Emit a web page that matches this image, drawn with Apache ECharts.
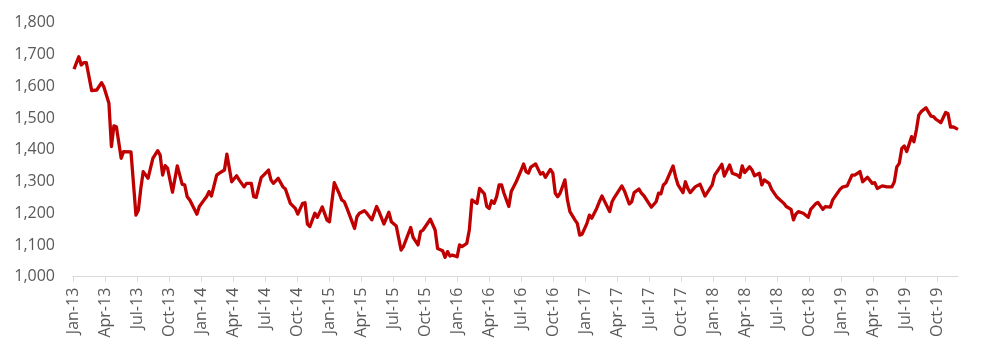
<!DOCTYPE html>
<html>
<head>
<meta charset="utf-8">
<script src="https://cdn.jsdelivr.net/npm/echarts@6/dist/echarts.min.js"></script>
<style>
html,body{margin:0;padding:0;background:#fff;}
#chart{width:981px;height:352px;}
</style>
</head>
<body>
<div id="chart"></div>
<script>
// Weekly observations (Fridays) starting 2013-01-04; week index since start
const startDate = '2013-01-04';
const weekIndex = [0,2,3,4,5,7,9,11,12,14,15,16,17,19,20,23,25,26,27,28,30,32,34,35,36,37,38,40,42,44,45,46,47,50,51,53,54,55,56,58,59,61,62,64,66,67,69,70,72,73,74,76,77,79,80,81,83,85,86,88,90,91,93,94,95,96,98,99,101,103,104,106,108,109,110,111,114,115,116,118,119,121,123,124,126,128,129,131,133,134,137,138,140,141,142,145,147,148,150,151,152,153,154,156,157,158,160,161,162,163,164,165,167,168,169,170,171,172,173,174,175,177,178,180,182,183,184,185,186,188,190,191,192,194,195,196,197,198,200,201,202,204,205,206,207,209,210,211,213,214,215,218,219,220,223,224,226,227,228,230,231,232,235,237,238,239,240,241,244,245,246,248,249,250,251,253,255,257,260,261,262,264,265,267,268,270,271,272,273,275,276,277,279,280,281,283,284,286,289,290,292,293,294,295,297,299,300,302,303,305,306,308,309,312,313,315,317,318,320,321,323,325,326,327,329,331,333,334,335,336,337,338,339,341,342,343,344,345,347,349,350,351,353,355,356,357,358,360];
const values = [1654,1693,1667,1674,1674,1586,1588,1611,1597,1546,1410,1475,1472,1373,1394,1393,1194,1210,1278,1331,1310,1373,1397,1383,1320,1350,1341,1266,1349,1291,1289,1252,1242,1197,1221,1242,1252,1268,1254,1320,1326,1336,1386,1299,1318,1305,1283,1294,1294,1252,1250,1312,1320,1336,1305,1294,1310,1283,1276,1231,1215,1197,1231,1233,1166,1158,1200,1187,1220,1178,1173,1296,1263,1242,1236,1215,1152,1189,1200,1208,1200,1179,1221,1205,1166,1203,1173,1160,1084,1095,1155,1124,1100,1142,1147,1181,1147,1089,1082,1061,1079,1065,1068,1063,1100,1095,1105,1147,1242,1236,1231,1278,1261,1221,1215,1239,1231,1252,1289,1289,1263,1221,1268,1299,1336,1355,1331,1326,1345,1355,1323,1328,1313,1338,1326,1263,1252,1263,1305,1242,1205,1179,1168,1131,1134,1168,1194,1184,1215,1236,1254,1205,1236,1250,1286,1271,1229,1236,1265,1276,1263,1255,1219,1236,1263,1261,1289,1296,1349,1315,1289,1265,1299,1278,1265,1283,1291,1254,1289,1320,1331,1354,1317,1352,1326,1320,1313,1349,1328,1346,1336,1318,1326,1289,1305,1294,1275,1252,1231,1221,1212,1179,1197,1205,1200,1187,1212,1229,1234,1212,1221,1219,1242,1275,1282,1286,1320,1320,1331,1299,1313,1294,1296,1278,1286,1283,1283,1299,1346,1357,1404,1412,1394,1441,1425,1462,1509,1520,1532,1506,1504,1496,1485,1517,1513,1471,1472,1464];
const monthNames = ['Jan','Feb','Mar','Apr','May','Jun','Jul','Aug','Sep','Oct','Nov','Dec'];
const yTicks = [1000,1100,1200,1300,1400,1500,1600,1700,1800];

function monthsSinceStart(d){
  const y = d.getUTCFullYear(), m = d.getUTCMonth(), day = d.getUTCDate();
  const dim = new Date(Date.UTC(y, m+1, 0)).getUTCDate();
  return (y-2013)*12 + m + (day-1)/dim;
}
const t0 = Date.parse(startDate + 'T00:00:00Z');
const seriesData = weekIndex.map((w,i)=>{
  const d = new Date(t0 + w*7*86400000);
  return [monthsSinceStart(d), values[i]];
});
const xMax = seriesData[seriesData.length-1][0];
const quarterTicks = [];
for(let m=0;m<=xMax;m+=3) quarterTicks.push(m);

const textColor = '#595959';
const font = 'Open Sans';
const chart = echarts.init(document.getElementById('chart'), null, {renderer:'canvas'});
chart.setOption({
  animation:false,
  grid:{left:73, right:23, top:22.7, bottom:75.3, containLabel:false},
  xAxis:{
    type:'value', min:0, max:xMax, interval:3,
    axisLine:{show:true, lineStyle:{color:'#d9d9d9', width:1}},
    axisTick:{show:true, length:5, lineStyle:{color:'#d9d9d9'}, customValues:quarterTicks},
    splitLine:{show:false},
    axisLabel:{
      rotate:90, margin:11, color:textColor, fontFamily:font, fontSize:16,
      customValues:quarterTicks,
      formatter:(v)=>{const m=Math.round(v);return monthNames[m%12]+'-'+String(13+Math.floor(m/12));}
    }
  },
  yAxis:{
    type:'value', min:yTicks[0], max:yTicks[yTicks.length-1], interval:100,
    axisLine:{show:false}, axisTick:{show:false}, splitLine:{show:false},
    axisLabel:{margin:18, color:textColor, fontFamily:font, fontSize:16,
      formatter:(v)=>v.toLocaleString('en-US')}
  },
  series:[{
    type:'line', data:seriesData, showSymbol:false, symbol:'none',
    lineStyle:{color:'#C00000', width:3.3, join:'round'},
    smooth:false
  }]
});
</script>
</body>
</html>
